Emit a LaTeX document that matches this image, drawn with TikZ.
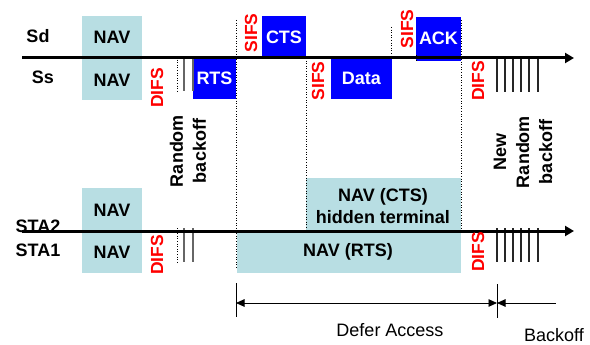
\documentclass[tikz,border=0pt]{standalone}
\usepackage{fontspec}
\setmainfont{Liberation Sans}
\usetikzlibrary{arrows.meta}
\definecolor{navc}{RGB}{184,222,227}
\definecolor{pblue}{RGB}{0,0,255}
\definecolor{pred}{RGB}{255,0,0}
\begin{document}
\begin{tikzpicture}[x=1pt,y=-1pt,
  every node/.style={outer sep=0pt},
  boxb/.style={anchor=north west, inner sep=0pt, draw=none},
  navbox/.style={boxb, fill=navc},
  frame/.style={boxb, fill=pblue},
  lbl/.style={font=\fontsize{18}{21}\selectfont\bfseries, inner sep=0pt},
  wlbl/.style={lbl, text=white},
  plain/.style={font=\fontsize{18}{21}\selectfont, inner sep=0pt},
  ifs/.style={font=\fontsize{17.5}{20}\selectfont\bfseries, text=pred, rotate=90, inner sep=0pt},
  rot/.style={lbl, rotate=90, align=center, font=\fontsize{18}{23}\selectfont\bfseries},
  timeline/.style={line width=3pt, -{Triangle[length=9pt,width=10pt]}},
  dotl/.style={dotted, line width=0.6pt},
  slotg/.style={line width=1.2pt, black!60},
  slot/.style={line width=1.3pt, black!85},
  dim/.style={line width=0.9pt},
  dimarr/.style={line width=0.9pt, {Triangle[length=8.5pt,width=7.5pt]}-{Triangle[length=8.5pt,width=7.5pt]}},
  dimarrl/.style={line width=0.9pt, {Triangle[length=8.5pt,width=7.5pt]}-}
]
\useasboundingbox (0,0) rectangle (590,345);

% ---------- boxes (upper part) ----------
\node[navbox, minimum width=60pt, minimum height=84pt] (navA) at (82,16) {};
\node[frame, minimum width=43pt, minimum height=41pt] (rts) at (193,58) {};
\node[frame, minimum width=44pt, minimum height=42pt] (cts) at (262,16) {};
\node[frame, minimum width=61pt, minimum height=41pt] (data) at (331,58) {};
\node[frame, minimum width=45pt, minimum height=44pt] (ack) at (416,17) {};

% ---------- boxes (lower part) ----------
\node[navbox, minimum width=60pt, minimum height=85pt] (navB) at (82,188) {};
\node[navbox, minimum width=155pt, minimum height=53pt] (navcts) at (306,178) {};
\node[navbox, minimum width=224pt, minimum height=42pt] (navrts) at (237,231) {};

% ---------- timelines ----------
\coordinate (t1s) at (22,58);
\coordinate (t1e) at (574,58);
\coordinate (t2s) at (22,231);
\coordinate (t2e) at (574,231);

% ---------- dotted markers ----------
\coordinate (d1t) at (236,20);
\coordinate (d1b) at (236,268);
\coordinate (d2t) at (306,58);
\coordinate (d2b) at (306,231);
\coordinate (d3t) at (391,27);
\coordinate (d3b) at (391,58);
\coordinate (d4t) at (416,55);
\coordinate (d4b) at (416,61);
\coordinate (d5t) at (461,20);
\coordinate (d5b) at (461,231);
\coordinate (d6t) at (177,57);
\coordinate (d6b) at (177,91);
\coordinate (d7t) at (177,228);
\coordinate (d7b) at (177,262);
\draw[dotl] (d1t) -- (d1b);
\draw[dotl] (d2t) -- (d2b);
\draw[dotl] (d3t) -- (d3b);
\draw[dotl] (d4t) -- (d4b);
\draw[dotl] (d5t) -- (d5b);
\draw[dotl] (d6t) -- (d6b);
\draw[dotl] (d7t) -- (d7b);

% ---------- backoff slots ----------
\foreach \x/\n in {184/a,193/b}{
  \coordinate (g\n1) at (\x,57); \coordinate (g\n2) at (\x,91);
  \coordinate (h\n1) at (\x,228); \coordinate (h\n2) at (\x,262);
  \draw[slotg] (g\n1) -- (g\n2);
  \draw[slotg] (h\n1) -- (h\n2);
}
\foreach \x/\n in {497/a,505/b,513/c,521/d,529/e,538/f}{
  \coordinate (s\n1) at (\x,59); \coordinate (s\n2) at (\x,92);
  \coordinate (u\n1) at (\x,228); \coordinate (u\n2) at (\x,262);
  \draw[slot] (s\n1) -- (s\n2);
  \draw[slot] (u\n1) -- (u\n2);
}

\draw[timeline] (t1s) -- (t1e);
\draw[timeline] (t2s) -- (t2e);

% ---------- labels ----------
\node[lbl] (sd) at (38,36) {Sd};
\node[lbl] (ss) at (43,77) {Ss};
\node[lbl] (sta2) at (38,226) {STA2};
\node[lbl] (sta1) at (38,250) {STA1};

\node[lbl] (nav1) at (112,37) {NAV};
\node[lbl] (nav2) at (112,80) {NAV};
\node[lbl] (nav3) at (112,210) {NAV};
\node[lbl] (nav4) at (112,252) {NAV};

\node[wlbl] at (rts.center) {RTS};
\node[wlbl] at (cts.center) {CTS};
\node[wlbl] at (data.center) {Data};
\node[wlbl] at ([yshift=1pt]ack.center) {ACK};

\node[lbl, align=center, font=\fontsize{18}{22}\selectfont\bfseries] (navctsl) at (383,206) {NAV (CTS)\\hidden terminal};
\node[lbl] (navrtsl) at (348,252) {NAV (RTS)};

\node[ifs] (difs1) at (157,88) {DIFS};
\node[ifs] (sifs1) at (251,33) {SIFS};
\node[ifs] (sifs2) at (318,81) {SIFS};
\node[ifs] (sifs3) at (407,29) {SIFS};
\node[ifs] (difs2) at (478,81) {DIFS};
\node[ifs] (difs3) at (157,255) {DIFS};
\node[ifs] (difs4) at (478,252) {DIFS};

\node[rot] (rb) at (188,151) {Random\\backoff};
\node[rot] (nrb) at (523,152) {New\\Random\\backoff};

% ---------- defer access / backoff ----------
\coordinate (b1t) at (236,283);
\coordinate (b1b) at (236,317);
\coordinate (b2t) at (497,284);
\coordinate (b2b) at (497,318);
\coordinate (a1) at (236,303);
\coordinate (a2) at (497,303);
\coordinate (a3) at (556,303);
\draw[dim] (b1t) -- (b1b);
\draw[dim] (b2t) -- (b2b);
\draw[dimarr] (a1) -- (a2);
\draw[dimarrl] (a2) -- (a3);
\node[plain] (defer) at (390,330) {Defer Access};
\node[plain] (bo) at (554,335) {Backoff};
\end{tikzpicture}
\end{document}
